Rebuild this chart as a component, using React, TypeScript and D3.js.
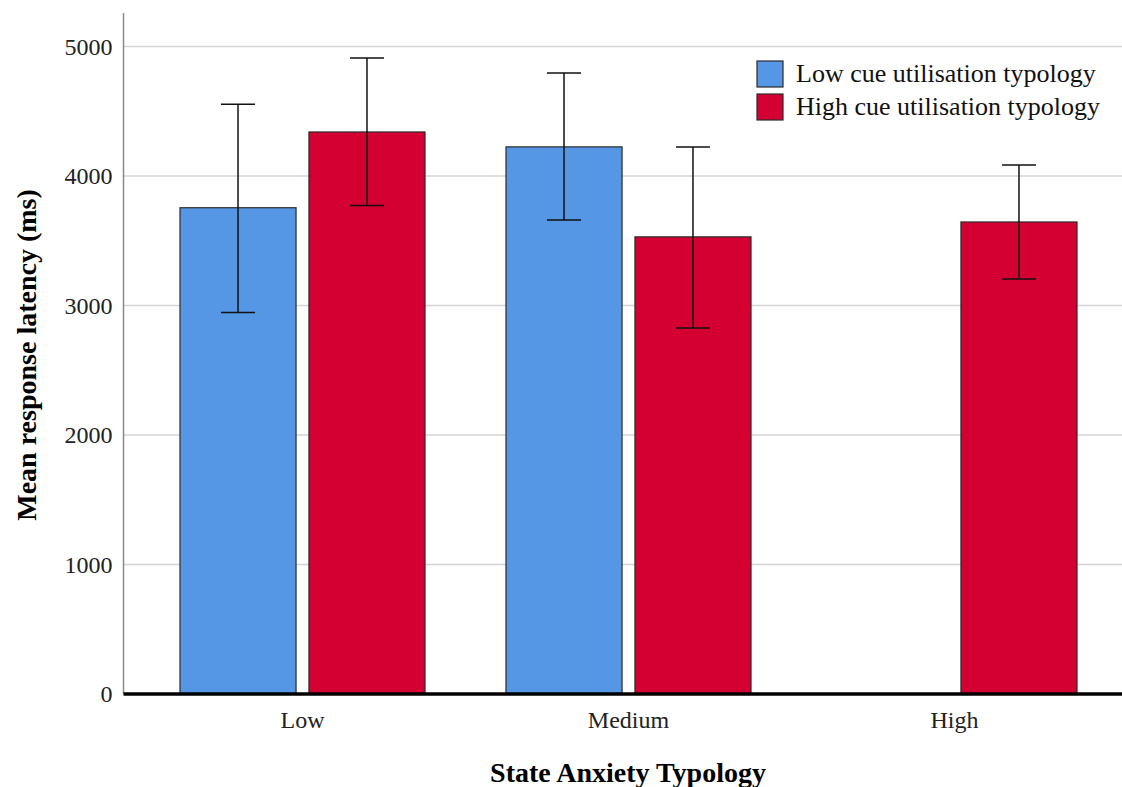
import React, { useEffect, useRef } from 'react';
import * as d3 from 'd3';

const categories = ['Low', 'Medium', 'High'];
const seriesNames = ['Low cue utilisation typology', 'High cue utilisation typology'];
const seriesColors = ['#5596e5', '#d50032'];
// mean, lower and upper error bound per category (null = no bar)
const lowCueMean = [3755, 4225, null];
const lowCueLower = [2945, 3660, null];
const lowCueUpper = [4555, 4795, null];
const highCueMean = [4340, 3530, 3645];
const highCueLower = [3772, 2826, 3205];
const highCueUpper = [4912, 4224, 4085];
const yTicks = [0, 1000, 2000, 3000, 4000, 5000];

const W = 1122;
const H = 787;

const App: React.FC = () => {
  const svgRef = useRef<SVGSVGElement>(null);

  useEffect(() => {
    if (!svgRef.current) return;
    const svg = d3.select(svgRef.current);
    svg.selectAll('*').remove();

    const left = 123.5;
    const right = 1122;
    const top = 13;
    const bottom = 694;

    const y = d3.scaleLinear().domain([0, 5000]).range([bottom, 46.5]);
    const x = d3.scaleBand().domain(categories).range([139.5, 1117.5]).padding(0);
    const xs = d3.scaleBand().domain(['0', '1']).range([0, x.bandwidth()])
      .paddingInner(0.1).paddingOuter(0.314);

    const serif = '"Liberation Serif", "DejaVu Serif", serif';

    // gridlines
    svg.append('g')
      .selectAll('line')
      .data(yTicks.filter(t => t > 0))
      .enter()
      .append('line')
      .attr('x1', left)
      .attr('x2', right)
      .attr('y1', d => y(d))
      .attr('y2', d => y(d))
      .attr('stroke', '#d4d4d4')
      .attr('stroke-width', 1.5);

    // y axis
    const yAxis = svg.append('g')
      .attr('transform', `translate(${left},0)`)
      .call(d3.axisLeft(y).tickValues(yTicks).tickSize(0).tickPadding(11).tickFormat(d3.format('d')));
    yAxis.select('.domain').remove();
    yAxis.selectAll('text')
      .style('font-family', serif)
      .style('font-size', '24px')
      .style('fill', '#222');
    svg.append('line')
      .attr('x1', left).attr('x2', left)
      .attr('y1', top).attr('y2', bottom)
      .attr('stroke', '#8a8a8a')
      .attr('stroke-width', 1.5);

    const series = [
      { mean: lowCueMean, lo: lowCueLower, hi: lowCueUpper },
      { mean: highCueMean, lo: highCueLower, hi: highCueUpper },
    ];

    series.forEach((s, si) => {
      const g = svg.append('g');
      categories.forEach((c, ci) => {
        const m = s.mean[ci];
        if (m == null) return;
        const bx = (x(c) || 0) + (xs(String(si)) || 0);
        const bw = xs.bandwidth();
        g.append('rect')
          .attr('x', bx)
          .attr('y', y(m))
          .attr('width', bw)
          .attr('height', y(0) - y(m))
          .attr('fill', seriesColors[si])
          .attr('stroke', '#2b2b2b')
          .attr('stroke-width', 1.2);
        const cx = bx + bw / 2;
        const lo = s.lo[ci] as number;
        const hi = s.hi[ci] as number;
        g.append('line')
          .attr('x1', cx).attr('x2', cx)
          .attr('y1', y(lo)).attr('y2', y(hi))
          .attr('stroke', '#111').attr('stroke-width', 1.5);
        [lo, hi].forEach(v => {
          g.append('line')
            .attr('x1', cx - 17).attr('x2', cx + 17)
            .attr('y1', y(v)).attr('y2', y(v))
            .attr('stroke', '#111').attr('stroke-width', 1.5);
        });
      });
    });

    // baseline
    svg.append('line')
      .attr('x1', left).attr('x2', right)
      .attr('y1', bottom).attr('y2', bottom)
      .attr('stroke', '#000')
      .attr('stroke-width', 3.5);

    // x labels
    svg.append('g')
      .selectAll('text')
      .data(categories)
      .enter()
      .append('text')
      .attr('x', d => (x(d) || 0) + x.bandwidth() / 2)
      .attr('y', 728)
      .attr('text-anchor', 'middle')
      .style('font-family', serif)
      .style('font-size', '24px')
      .style('fill', '#222')
      .text(d => d);

    // axis titles
    svg.append('text')
      .attr('x', 628)
      .attr('y', 782)
      .attr('text-anchor', 'middle')
      .style('font-family', serif)
      .style('font-size', '28px')
      .style('font-weight', 'bold')
      .text('State Anxiety Typology');

    svg.append('text')
      .attr('transform', 'translate(36,355) rotate(-90)')
      .attr('text-anchor', 'middle')
      .style('font-family', serif)
      .style('font-size', '28px')
      .style('font-weight', 'bold')
      .text('Mean response latency (ms)');

    // legend
    const lg = svg.append('g').attr('transform', 'translate(757,61)');
    seriesNames.forEach((n, i) => {
      lg.append('rect')
        .attr('x', 0)
        .attr('y', i * 33)
        .attr('width', 26)
        .attr('height', 26)
        .attr('fill', seriesColors[i])
        .attr('stroke', '#2b2b2b')
        .attr('stroke-width', 1.2);
      lg.append('text')
        .attr('x', 39)
        .attr('y', i * 33 + 21)
        .style('font-family', serif)
        .style('font-size', '26px')
        .style('fill', '#111')
        .text(n);
    });
  }, []);

  return (
    <svg
      ref={svgRef}
      width={W}
      height={H}
      viewBox={`0 0 ${W} ${H}`}
      style={{ position: 'absolute', left: 0, top: 0, background: '#fff' }}
    />
  );
};

export default App;
